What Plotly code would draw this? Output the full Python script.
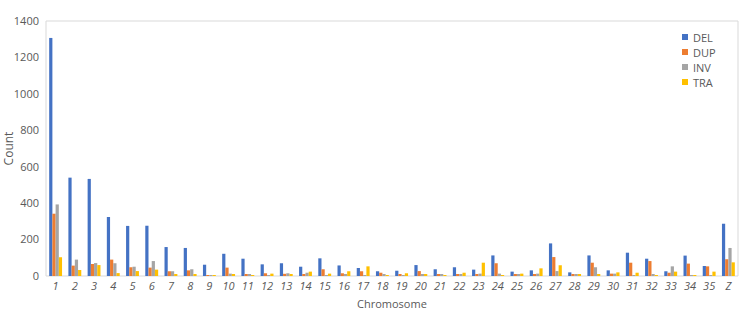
import plotly.graph_objects as go

chromosomes = [str(i) for i in range(1, 36)] + ["Z"]
DEL = [1307, 540, 533, 324, 275, 276, 159, 154, 62, 122,
       95, 64, 70, 51, 97, 58, 44, 26, 29, 60,
       37, 48, 35, 113, 24, 31, 179, 20, 113, 31,
       128, 95, 26, 112, 55, 287]
DUP = [342, 57, 66, 90, 48, 46, 26, 31, 5, 46,
       9, 15, 12, 11, 37, 15, 26, 18, 9, 27,
       7, 7, 7, 70, 7, 9, 104, 7, 73, 13,
       73, 82, 18, 68, 53, 92]
INV = [393, 90, 71, 70, 51, 82, 26, 37, 4, 13,
       9, 5, 15, 18, 4, 7, 2, 11, 5, 7,
       7, 9, 13, 13, 7, 13, 27, 7, 48, 13,
       5, 7, 53, 2, 5, 154]
TRA = [103, 33, 60, 16, 27, 35, 11, 11, 5, 7,
       4, 13, 7, 24, 13, 26, 53, 2, 15, 9,
       2, 18, 73, 5, 13, 42, 59, 9, 7, 20,
       18, 2, 24, 5, 24, 75]

series = [("DEL", DEL, "#4472C4"), ("DUP", DUP, "#ED7D31"),
          ("INV", INV, "#A5A5A5"), ("TRA", TRA, "#FFC000")]

fig = go.Figure()
for name, vals, color in series:
    fig.add_trace(go.Bar(x=chromosomes, y=vals, name=name, showlegend=False,
                         marker=dict(color=color, line=dict(width=0))))

# plot area geometry (pixels) for the compact legend
W, H = 749, 310
ML, MR, MT, MB = 46, 11, 21, 34
PW, PH = W - ML - MR, H - MT - MB

def px_x(px):
    return (px - ML) / PW

def px_y(py):
    return (H - MB - py) / PH

shapes = [dict(type="rect", xref="paper", yref="paper", x0=0, x1=1, y0=0, y1=1,
               line=dict(color="#D9D9D9", width=1), fillcolor="rgba(0,0,0,0)",
               layer="below")]
annotations = [dict(text="Chromosome", xref="paper", yref="paper",
                    x=0.5, y=0, yshift=-27, xanchor="center", yanchor="middle",
                    showarrow=False, font=dict(size=11, color="#595959"))]

legend_top, legend_step = 37, 15
for i, (name, vals, color) in enumerate(series):
    cy = legend_top + i * legend_step
    shapes.append(dict(type="rect", xref="paper", yref="paper",
                       x0=px_x(682), x1=px_x(688), y0=px_y(cy + 3), y1=px_y(cy - 3),
                       line=dict(width=0), fillcolor=color))
    annotations.append(dict(text=name, xref="paper", yref="paper",
                            x=px_x(691), y=px_y(cy), xanchor="left", yanchor="middle",
                            showarrow=False, font=dict(size=11, color="#595959")))

fig.update_layout(
    width=W, height=H,
    margin=dict(l=ML, r=MR, t=MT, b=MB),
    paper_bgcolor="white", plot_bgcolor="white",
    barmode="group", bargap=0.33, bargroupgap=0.0,
    font=dict(family="Open Sans", size=11, color="#595959"),
    showlegend=False,
    xaxis=dict(type="category", showgrid=False, showline=False, ticks="",
               automargin=False, ticklabelstandoff=2,
               tickfont=dict(size=11, color="#595959", style="italic")),
    yaxis=dict(range=[0, 1400], dtick=200, showgrid=False, zeroline=False,
               automargin=False, ticklabelstandoff=6,
               showline=False, ticks="", tickfont=dict(size=11, color="#595959"),
               title=dict(text="Count", font=dict(size=12, color="#595959"), standoff=8)),
    shapes=shapes,
    annotations=annotations,
)

fig.write_html("out.html")
